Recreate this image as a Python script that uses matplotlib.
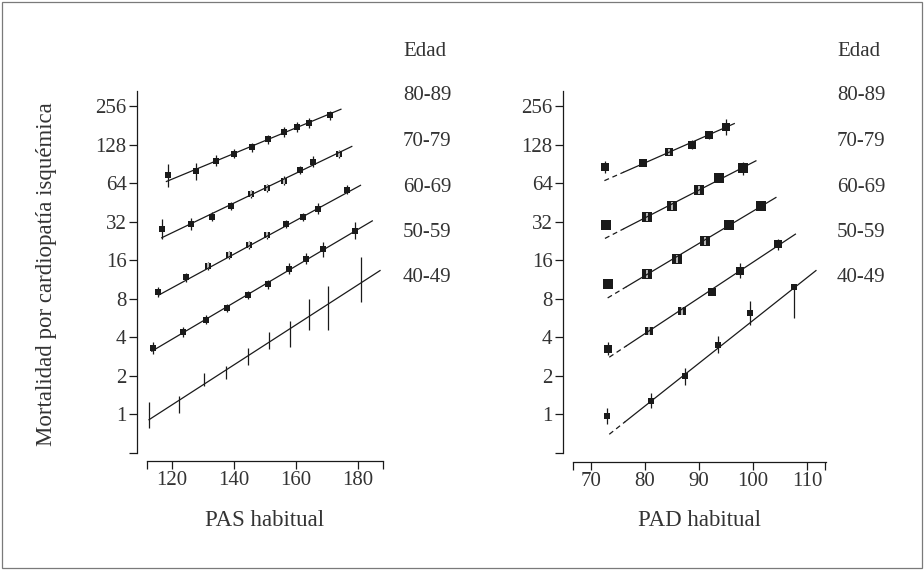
import matplotlib
matplotlib.use('Agg')
import matplotlib.pyplot as plt
import matplotlib.patches as mpatches
import numpy as np

plt.rcParams['font.family'] = ['Liberation Serif', 'DejaVu Serif']

edades = ['80-89', '70-79', '60-69', '50-59', '40-49']
y_ticks = [1, 2, 4, 8, 16, 32, 64, 128, 256]

# ---- PAS habitual (panel izquierdo) ----
pas_x_80 = [118.9, 127.8, 134.3, 140.2, 145.8, 151.1, 156.3, 160.5, 164.3, 171.1]
pas_y_80 = [74, 79, 96, 109, 122, 141, 161, 176, 189, 217]
pas_x_70 = [117.0, 126.3, 133.1, 139.2, 145.4, 150.8, 156.3, 161.4, 165.5, 174.0]
pas_y_70 = [28.1, 30.9, 35, 42.4, 53, 59, 67, 81.5, 94, 108]
pas_x_60 = [115.7, 124.6, 131.8, 138.4, 144.8, 150.8, 156.8, 162.4, 167.2, 176.5]
pas_y_60 = [9.06, 11.8, 14.4, 17.6, 21.1, 25.0, 30.7, 35, 40.5, 56.8]
pas_x_50 = [114.1, 123.7, 131.1, 137.9, 144.7, 151.1, 157.7, 163.3, 168.7, 179.1]
pas_y_50 = [3.31, 4.4, 5.5, 6.78, 8.55, 10.4, 13.8, 16.5, 19.5, 27.3]
pas_x_40 = [112.7, 122.4, 130.4, 137.5, 144.5, 151.3, 158.0, 164.2, 170.3, 181.0]
pas_y_40 = [0.99, 1.2, 1.87, 2.11, 2.83, 3.79, 4.26, 6.0, 6.8, 11.3]

# semiamplitud del IC en log2
pas_e_80 = [0.30, 0.22, 0.14, 0.12, 0.12, 0.12, 0.14, 0.12, 0.14, 0.12]
pas_e_70 = [0.25, 0.16, 0.12, 0.10, 0.10, 0.10, 0.12, 0.10, 0.14, 0.10]
pas_e_60 = [0.12, 0.12, 0.10, 0.10, 0.10, 0.10, 0.10, 0.10, 0.14, 0.12]
pas_e_50 = [0.15, 0.14, 0.12, 0.10, 0.10, 0.12, 0.14, 0.14, 0.19, 0.22]
pas_e_40 = [0.345, 0.22, 0.17, 0.17, 0.225, 0.225, 0.345, 0.40, 0.57, 0.58]

# puntos con el IC dentro del cuadrado (se ve una raya clara)
pas_claro = [[], [4, 5, 6, 9], [2, 3, 4, 5], [], []]

# rectas ajustadas: x inicio, x fin, y inicio, y fin
pas_rx0 = [118.3, 116.8, 116.0, 113.6, 112.7]
pas_rx1 = [174.5, 178.0, 180.8, 184.6, 187.1]
pas_ry0 = [66, 24, 8.6, 3.12, 0.91]
pas_ry1 = [242, 124, 61.6, 32.5, 13.3]

# ---- PAD habitual (panel derecho) ----
pad_x_80 = [72.7, 79.7, 84.5, 88.7, 91.9, 94.9]
pad_y_80 = [85.5, 92, 112, 128, 153, 176]
pad_x_70 = [72.8, 80.3, 85.0, 89.9, 93.6, 98.1]
pad_y_70 = [30.3, 34.6, 42.8, 56.5, 70, 84]
pad_x_60 = [73.2, 80.4, 85.9, 91.1, 95.6, 101.4]
pad_y_60 = [10.5, 12.6, 16.5, 22.5, 30.3, 42.6]
pad_x_50 = [73.2, 80.8, 86.8, 92.4, 97.6, 104.5]
pad_y_50 = [3.27, 4.52, 6.47, 9.0, 13.3, 21.4]
pad_x_40 = [73.0, 81.1, 87.4, 93.5, 99.5, 107.6]
pad_y_40 = [0.97, 1.28, 1.99, 3.5, 6.2, 9.9]

pad_e_80 = [0.15, 0.08, 0.08, 0.12, 0.10, 0.20]
pad_e_70 = [0.08, 0.08, 0.08, 0.08, 0.08, 0.17]
pad_e_60 = [0.08, 0.08, 0.08, 0.08, 0.08, 0.12]
pad_e_50 = [0.16, 0.08, 0.08, 0.08, 0.20, 0.14]
pad_e_40_inf = [0.20, 0.20, 0.22, 0.22, 0.30, 0.80]
pad_e_40_sup = [0.20, 0.20, 0.22, 0.22, 0.30, 0.0]

pad_claro = [[2], [1, 2, 3], [1, 2, 3], [1, 2], []]

pad_rx0 = [72.5, 72.6, 73.1, 73.4, 73.4]
pad_rx1 = [96.5, 100.5, 104.2, 107.8, 111.6]
pad_ry0 = [67, 23.7, 8.13, 2.8, 0.70]
pad_ry1 = [187, 95.7, 49.5, 25.6, 13.3]
pad_rdash = [76.1, 76.1, 76.6, 76.6, 76.3]  # tramo discontinuo hasta aqui

pas_x = [pas_x_80, pas_x_70, pas_x_60, pas_x_50, pas_x_40]
pas_y = [pas_y_80, pas_y_70, pas_y_60, pas_y_50, pas_y_40]
pas_e = [pas_e_80, pas_e_70, pas_e_60, pas_e_50, pas_e_40]
pad_x = [pad_x_80, pad_x_70, pad_x_60, pad_x_50, pad_x_40]
pad_y = [pad_y_80, pad_y_70, pad_y_60, pad_y_50, pad_y_40]
pad_e_inf = [pad_e_80, pad_e_70, pad_e_60, pad_e_50, pad_e_40_inf]
pad_e_sup = [pad_e_80, pad_e_70, pad_e_60, pad_e_50, pad_e_40_sup]

negro = '#1a1a1a'
texto = '#333333'
fs = 15


def puntos(ax, x, y, e_inf, e_sup, ms, claros):
    x = np.array(x)
    y = np.array(y, dtype=float)
    lo = y - y / 2 ** np.array(e_inf)
    hi = y * 2 ** np.array(e_sup) - y
    ax.errorbar(x, y, yerr=[lo, hi], fmt='none', ecolor=negro, elinewidth=0.9, capsize=0)
    if ms > 0:
        ax.plot(x, y, ls='none', marker='s', ms=ms, mfc=negro, mec=negro, mew=0)
        if claros:
            ax.plot(x[claros], y[claros], ls='none', marker='|', ms=ms * 0.85,
                    mec='#d6d6d6', mew=1.2)


def ejes(ax, xlim, xticks, xminor, off_izq, off_inf):
    ax.set_yscale('log', base=2)
    ax.set_ylim(0.5, 336)
    ax.set_xlim(*xlim)
    ax.set_yticks(y_ticks, [str(t) for t in y_ticks])
    ax.set_yticks([0.5], minor=True)
    ax.set_yticklabels([], minor=True)
    ax.set_xticks(xticks, [str(t) for t in xticks])
    ax.set_xticks(xminor, minor=True)
    ax.set_xticklabels([], minor=True)
    for s in ['top', 'right']:
        ax.spines[s].set_visible(False)
    ax.spines['left'].set_position(('outward', off_izq))
    ax.spines['bottom'].set_position(('outward', off_inf))
    for s in ['left', 'bottom']:
        ax.spines[s].set_linewidth(0.9)
        ax.spines[s].set_color(negro)
    ax.tick_params(which='both', direction='out', length=5.5, width=0.9, color=negro,
                   labelsize=fs, labelcolor=texto)
    ax.tick_params(axis='y', which='both', pad=2)
    ax.tick_params(axis='x', which='both', pad=2)
    ax.patch.set_alpha(0)


fig = plt.figure(figsize=(9.24, 5.70), dpi=100)

# panel izquierdo
ax1 = fig.add_axes([147 / 924, 1 - 453 / 570, 236 / 924, 362 / 570])
for i in range(5):
    puntos(ax1, pas_x[i], pas_y[i], pas_e[i], pas_e[i], 0 if i == 4 else 4.8, pas_claro[i])
    ax1.plot([pas_rx0[i], pas_rx1[i]], [pas_ry0[i], pas_ry1[i]], color=negro, lw=0.9)
ejes(ax1, (112.05, 188.05), [120, 140, 160, 180], [112.1, 188.0], 7.2, 5.8)

# panel derecho
ax2 = fig.add_axes([572.7 / 924, 1 - 453 / 570, 253 / 924, 362 / 570])
tam = [5.8, 6.8, 6.8, 6.0, 4.4]
for i in range(5):
    puntos(ax2, pad_x[i], pad_y[i], pad_e_inf[i], pad_e_sup[i], tam[i], pad_claro[i])
    lx = [pad_rx0[i], pad_rx1[i]]
    ly = np.log2([pad_ry0[i], pad_ry1[i]])
    yd = 2 ** np.interp(pad_rdash[i], lx, ly)
    ax2.plot([pad_rx0[i], pad_rdash[i]], [pad_ry0[i], yd], color=negro, lw=0.9,
             ls=(0, (4, 3)))
    ax2.plot([pad_rdash[i], pad_rx1[i]], [yd, pad_ry1[i]], color=negro, lw=0.9)
ejes(ax2, (66.64, 113.4), [70, 80, 90, 100, 110], [66.7, 113.35], 7.0, 6.5)

# textos
fig.text(47 / 924, 1 - 274 / 570, 'Mortalidad por cardiopatía isquémica', rotation=90,
         ha='center', va='center', fontsize=16.5, color=texto)
fig.text(265 / 924, 1 - 520 / 570, 'PAS habitual', ha='center', va='center',
         fontsize=16.5, color=texto)
fig.text(699 / 924, 1 - 520 / 570, 'PAD habitual', ha='center', va='center',
         fontsize=16.5, color=texto)

ys = [95, 142, 187, 233, 278]
for xcol in [403 / 924, 837 / 924]:
    fig.text(xcol, 1 - 52 / 570, 'Edad', ha='left', va='center', fontsize=fs, color=texto)
    for ed, yy in zip(edades, ys):
        fig.text(xcol, 1 - yy / 570, ed, ha='left', va='center', fontsize=fs, color=texto)

# marco
fig.add_artist(mpatches.Rectangle((2 / 924, 2 / 570), 920 / 924, 566 / 570,
                                  transform=fig.transFigure, fill=False,
                                  ec='#7a7a7a', lw=0.9))

fig.savefig('out.png', dpi=100)
